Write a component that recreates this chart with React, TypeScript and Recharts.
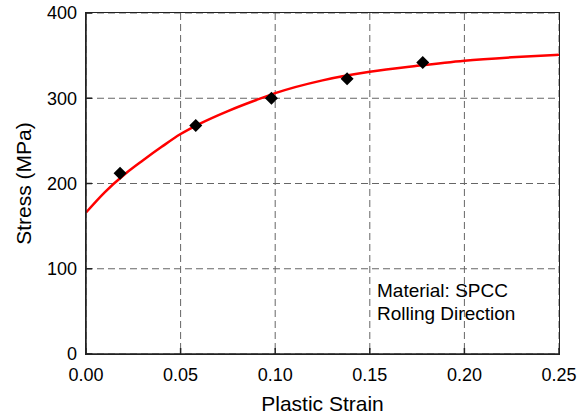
import React from 'react'
import {
  ComposedChart,
  Line,
  Scatter,
  XAxis,
  YAxis,
  CartesianGrid,
} from 'recharts'

// fitted curve
const curveStrain = [0, 0.01, 0.02, 0.03, 0.04, 0.05, 0.06, 0.075, 0.09, 0.1, 0.125, 0.15, 0.175, 0.2, 0.225, 0.25]
const curveStress = [166, 190, 210, 227, 243, 258, 270, 285, 298, 306, 321, 331, 338, 344, 348, 351]

// measured points
const pointStrain = [0.018, 0.058, 0.098, 0.138, 0.178]
const pointStress = [212, 268, 300, 323, 342]

const xTicks = [0, 0.05, 0.1, 0.15, 0.2, 0.25]
const yTicks = [0, 100, 200, 300, 400]

const curveData = curveStrain.map((x, i) => ({ x, y: curveStress[i] }))
const pointData = pointStrain.map((x, i) => ({ x, y: pointStress[i] }))

const font = '"Liberation Sans", Arial, Helvetica, sans-serif'
const tickStyle = { fontSize: 18, fill: '#000', fontFamily: font }

const Diamond = (props: any) => {
  const { cx, cy } = props
  const r = 6.5
  return (
    <polygon
      points={`${cx},${cy - r} ${cx + r},${cy} ${cx},${cy + r} ${cx - r},${cy}`}
      fill="#000"
    />
  )
}

const YLabel = (props: any) => {
  const { viewBox } = props
  const cy = viewBox.y + viewBox.height / 2
  const x = 31
  return (
    <text
      x={x}
      y={cy}
      transform={`rotate(-90, ${x}, ${cy})`}
      textAnchor="middle"
      fontSize={21}
      fontFamily={font}
      fill="#000"
    >
      Stress (MPa)
    </text>
  )
}

const XLabel = (props: any) => {
  const { viewBox } = props
  const cx = viewBox.x + viewBox.width / 2
  return (
    <text x={cx} y={411} textAnchor="middle" fontSize={21} fontFamily={font} fill="#000">
      Plastic Strain
    </text>
  )
}

export default function App() {
  return (
    <div style={{ position: 'absolute', left: 0, top: 0, width: 578, height: 419, background: '#fff' }}>
      <ComposedChart
        width={578}
        height={419}
        margin={{ top: 13, right: 19, left: 26, bottom: 0 }}
      >
        <CartesianGrid stroke="#666" strokeDasharray="7 4" />
        <XAxis
          dataKey="x"
          type="number"
          domain={[0, 0.25]}
          ticks={xTicks}
          tickFormatter={(v: number) => v.toFixed(2)}
          tick={tickStyle}
          tickSize={-6}
          tickMargin={20}
          height={65}
          stroke="#222"
          strokeWidth={1.5}
          label={<XLabel />}
        />
        <YAxis
          type="number"
          domain={[0, 400]}
          ticks={yTicks}
          tick={tickStyle}
          tickSize={-6}
          tickMargin={15}
          width={60}
          stroke="#222"
          strokeWidth={1.5}
          label={<YLabel />}
        />
        <Line
          data={curveData}
          dataKey="y"
          type="monotone"
          stroke="#ff0000"
          strokeWidth={2.5}
          dot={false}
          isAnimationActive={false}
        />
        <Scatter
          data={pointData}
          dataKey="y"
          fill="#000"
          shape={<Diamond />}
          isAnimationActive={false}
        />
      </ComposedChart>
      {/* plot frame */}
      <div
        style={{
          position: 'absolute',
          left: 85.25,
          top: 12.25,
          width: 474.5,
          height: 342.5,
          boxSizing: 'border-box',
          border: '1.5px solid #222',
          pointerEvents: 'none',
        }}
      />
      <div
        style={{
          position: 'absolute',
          left: 377,
          top: 279,
          fontFamily: font,
          fontSize: 19,
          lineHeight: '23px',
          color: '#000',
        }}
      >
        Material: SPCC
        <br />
        Rolling Direction
      </div>
    </div>
  )
}
